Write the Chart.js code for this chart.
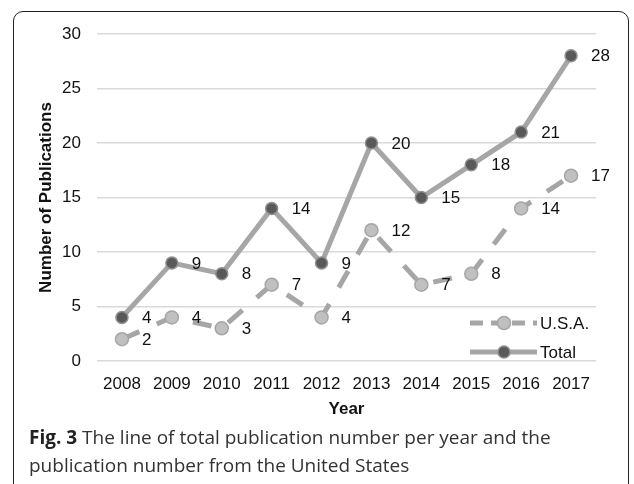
<!DOCTYPE html>
<html>
<head>
<meta charset="utf-8">
<script src="https://cdn.jsdelivr.net/npm/chart.js@4.4.0/dist/chart.umd.min.js"></script>
<style>
  html, body { margin: 0; padding: 0; background: #fff; }
  #wrap { position: relative; width: 634px; height: 484px; overflow: hidden; }
  #frame {
    position: absolute; left: 13px; top: 11px; width: 614px; height: 500px;
    border: 1.5px solid #222; border-radius: 10px 10px 0 0;
  }
  #c { position: absolute; left: 0; top: 0; }
  #caption {
    position: absolute; left: 29px; top: 423px; width: 600px;
    font-family: "Open Sans", sans-serif; font-size: 19px; line-height: 28px; color: #333;
  }
  #caption b { color: #222; }
</style>
</head>
<body>
<div id="wrap">
  <div id="frame"></div>
  <canvas id="c" width="634" height="484"></canvas>
  <div id="caption"><b>Fig. 3</b> The line of total publication number per year and the publication number from the United States</div>
</div>
<script>
// datos
const years = ["2008", "2009", "2010", "2011", "2012", "2013", "2014", "2015", "2016", "2017"];
const usa = [2, 4, 3, 7, 4, 12, 7, 8, 14, 17];
const total = [4, 9, 8, 14, 9, 20, 15, 18, 21, 28];
const yTicks = [0, 5, 10, 15, 20, 25, 30];

const font = "'Liberation Sans', Arial, sans-serif";
const fs = 17;

// etiquetas de valor a la derecha de cada punto
const valueLabels = {
  id: "valueLabels",
  afterDatasetsDraw(chart) {
    const ctx = chart.ctx;
    ctx.save();
    ctx.font = fs + "px " + font;
    ctx.fillStyle = "#111";
    ctx.textAlign = "left";
    ctx.textBaseline = "middle";
    chart.data.datasets.forEach((ds, i) => {
      chart.getDatasetMeta(i).data.forEach((pt, j) => {
        ctx.fillText(ds.data[j], pt.x + 20, pt.y + 1);
      });
    });
    ctx.restore();
  }
};

// leyenda dentro del area, abajo a la derecha
const innerLegend = {
  id: "innerLegend",
  afterDraw(chart) {
    const ctx = chart.ctx;
    const a = chart.chartArea;
    const x0 = a.right - 126, x1 = a.right - 59, xm = a.right - 92;
    const rows = [
      { ds: chart.data.datasets[1], y: a.bottom - 38 },
      { ds: chart.data.datasets[0], y: a.bottom - 9 }
    ];
    ctx.save();
    rows.forEach(r => {
      ctx.strokeStyle = r.ds.borderColor;
      ctx.lineWidth = r.ds.borderWidth;
      ctx.setLineDash(r.ds.borderDash ? [13, 8] : []);
      ctx.beginPath();
      ctx.moveTo(x0, r.y);
      ctx.lineTo(x1, r.y);
      ctx.stroke();
      ctx.setLineDash([]);
      ctx.beginPath();
      ctx.arc(xm, r.y, r.ds.pointRadius, 0, Math.PI * 2);
      ctx.fillStyle = r.ds.pointBackgroundColor;
      ctx.fill();
      ctx.lineWidth = r.ds.pointBorderWidth;
      ctx.strokeStyle = r.ds.pointBorderColor;
      ctx.stroke();
      ctx.font = fs + "px " + font;
      ctx.fillStyle = "#111";
      ctx.textBaseline = "middle";
      ctx.fillText(r.ds.label, x1 + 3, r.y + 1);
    });
    ctx.restore();
  }
};

new Chart(document.getElementById("c"), {
  type: "line",
  data: {
    labels: years,
    datasets: [
      {
        label: "Total",
        data: total,
        borderColor: "#a6a6a6",
        borderWidth: 5,
        pointRadius: 6,
        pointBackgroundColor: "#595959",
        pointBorderColor: "#909090",
        pointBorderWidth: 1.5,
        tension: 0
      },
      {
        label: "U.S.A.",
        data: usa,
        borderColor: "#a6a6a6",
        borderWidth: 5,
        borderDash: [19, 19],
        pointRadius: 6.5,
        pointBackgroundColor: "#c0c0c0",
        pointBorderColor: "#a6a6a6",
        pointBorderWidth: 1.5,
        tension: 0
      }
    ]
  },
  options: {
    responsive: false,
    animation: false,
    layout: { padding: { left: 0, top: 34, right: 38, bottom: 63 } },
    plugins: { legend: { display: false }, tooltip: { enabled: false } },
    scales: {
      x: {
        offset: true,
        grid: { display: false },
        border: { display: false },
        ticks: { color: "#111", font: { family: font, size: fs }, padding: 5, maxRotation: 0 },
        title: { display: true, text: "Year", color: "#111", font: { family: font, size: fs, weight: "bold" }, padding: { bottom: 1 } },
        afterFit(s) { s.height = 60; }
      },
      y: {
        min: 0,
        max: 30,
        afterBuildTicks(s) { s.ticks = yTicks.map(v => ({ value: v })); },
        grid: { color: "#d9d9d9", lineWidth: 1.5, drawTicks: false },
        border: { display: false },
        ticks: { color: "#111", font: { family: font, size: fs }, padding: 16 },
        title: { display: true, text: "Number of Publications", color: "#111", font: { family: font, size: fs, weight: "bold" }, padding: { top: 36 } },
        afterFit(s) { s.width = 97; }
      }
    }
  },
  plugins: [valueLabels, innerLegend]
});
</script>
</body>
</html>
